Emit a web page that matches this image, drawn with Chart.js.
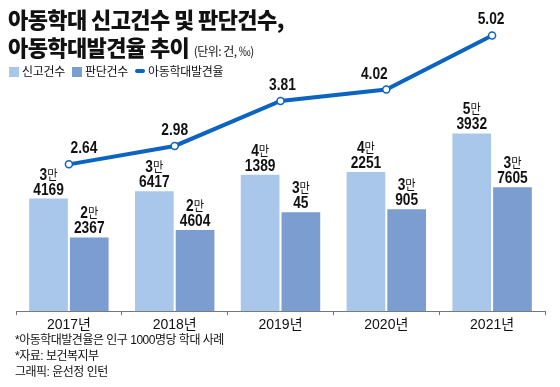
<!DOCTYPE html>
<html>
<head>
<meta charset="utf-8">
<script src="https://cdn.jsdelivr.net/npm/chart.js@4"></script>
<style>
  body { margin: 0; background: #fff; }
  #wrap { position: relative; width: 560px; height: 387px; overflow: hidden; font-family: "Liberation Sans", "Noto Sans CJK KR", sans-serif; color: #111; }
  #myChart { position: absolute; left: 0; top: 0; }
  .title { position: absolute; left: 8px; font-family: "Noto Sans CJK KR", sans-serif; font-size: 22px; font-weight: 900; letter-spacing: -0.6px; line-height: 1; white-space: nowrap; }
  .title small { font-size: 12px; font-weight: 400; letter-spacing: -0.5px; }
  .legend { position: absolute; left: 9px; top: 64px; font-size: 12px; letter-spacing: -0.3px; white-space: nowrap; line-height: 16px; }
  .legend span.sw { display: inline-block; width: 10px; height: 10px; vertical-align: -1px; margin-right: 3px; }
  .legend span.ln { display: inline-block; width: 10px; height: 4px; border-radius: 2px; vertical-align: 3px; margin-right: 3px; }
  .legend .item { margin-right: 4px; }
  .notes { position: absolute; left: 15px; top: 332px; font-size: 12px; line-height: 16px; letter-spacing: -0.5px; white-space: nowrap; }
</style>
</head>
<body>
<div id="wrap">
  <canvas id="myChart" width="560" height="387"></canvas>
  <div class="title" style="top:7px">아동학대 신고건수 및 판단건수,</div>
  <div class="title" style="top:35px">아동학대발견율 추이 <small>(단위: 건, ‰)</small></div>
  <div class="legend">
    <span class="item"><span class="sw" style="background:#a9c7ea"></span>신고건수</span>
    <span class="item"><span class="sw" style="background:#7b9dd0"></span>판단건수</span>
    <span class="item"><span class="ln" style="background:#0b63c2"></span>아동학대발견율</span>
  </div>
  <div class="notes">
    *아동학대발견율은 인구 1000명당 학대 사례<br>
    *자료: 보건복지부<br>
    그래픽: 윤선정 인턴
  </div>
</div>
<script>
// data
var years = ['2017년', '2018년', '2019년', '2020년', '2021년'];
var reports = [34169, 36417, 41389, 42251, 53932];
var judged = [22367, 24604, 30045, 30905, 37605];
var rate = [2.64, 2.98, 3.81, 4.02, 5.02];

// "3만 4169" style labels above the bars
var barLabels = {
    id: 'barLabels',
    afterDatasetsDraw: function (chart) {
        var ctx = chart.ctx;
        ctx.save();
        ctx.fillStyle = '#111';
        ctx.textBaseline = 'alphabetic';
        [0, 1].forEach(function (di) {
            var meta = chart.getDatasetMeta(di);
            var vals = chart.data.datasets[di].data;
            meta.data.forEach(function (bar, i) {
                var v = vals[i];
                var man = Math.floor(v / 10000);
                var rest = String(v % 10000);
                // number line
                ctx.save();
                ctx.translate(bar.x, bar.y - 4);
                ctx.scale(0.86, 1);
                ctx.font = 'bold 16px "Liberation Sans", Arial, sans-serif';
                ctx.textAlign = 'center';
                ctx.fillText(rest, 0, 0);
                ctx.restore();
                // "N만" line
                ctx.save();
                ctx.translate(bar.x, bar.y - 19);
                ctx.scale(0.86, 1);
                ctx.font = 'bold 16px "Liberation Sans", Arial, sans-serif';
                var w1 = ctx.measureText(String(man)).width;
                ctx.font = '13px "Noto Sans CJK KR", sans-serif';
                var w2 = ctx.measureText('만').width;
                var x0 = -(w1 + w2) / 2;
                ctx.textAlign = 'left';
                ctx.font = 'bold 16px "Liberation Sans", Arial, sans-serif';
                ctx.fillText(String(man), x0, 0);
                ctx.font = '13px "Noto Sans CJK KR", sans-serif';
                ctx.fillText('만', x0 + w1, -1);
                ctx.restore();
            });
        });
        // rate labels
        var lmeta = chart.getDatasetMeta(2);
        var shift = chart.options.plugins.barLabels.rateShift;
        lmeta.data.forEach(function (pt, i) {
            ctx.save();
            ctx.translate(pt.x + shift[i], pt.y - 11);
            ctx.scale(0.86, 1);
            ctx.font = 'bold 16px "Liberation Sans", Arial, sans-serif';
            ctx.textAlign = 'center';
            ctx.fillText(rate[i].toFixed(2), 0, 0);
            ctx.restore();
        });
        ctx.restore();
    }
};

var ctx1 = document.getElementById('myChart').getContext('2d');

var chartData = {
    type: 'bar',
    data: {
        labels: years,
        datasets: [{
            label: '신고건수',
            data: reports,
            backgroundColor: '#a9c7ea',
            yAxisID: 'y',
            order: 2
        }, {
            label: '판단건수',
            data: judged,
            backgroundColor: '#7b9dd0',
            yAxisID: 'y',
            order: 2
        }, {
            type: 'line',
            label: '아동학대발견율',
            data: rate,
            borderColor: '#0b63c2',
            borderWidth: 4,
            pointRadius: 3.5,
            pointBorderWidth: 1.5,
            pointBackgroundColor: '#fff',
            pointBorderColor: '#0b63c2',
            tension: 0,
            yAxisID: 'y1',
            order: 1
        }]
    },
    options: {
        responsive: false,
        animation: false,
        layout: { padding: { top: 30, left: 16, right: 15, bottom: 51 } },
        datasets: { bar: { categoryPercentage: 0.77, barPercentage: 0.95 } },
        plugins: {
            legend: { display: false },
            tooltip: { enabled: false },
            barLabels: { rateShift: [15, 0, 2, -12, -1] }
        },
        scales: {
            x: {
                grid: { offset: true, drawOnChartArea: false, tickLength: 4, color: '#777' },
                border: { display: true, color: '#777' },
                ticks: { color: '#111', font: { size: 14, family: '"Liberation Sans", "Noto Sans CJK KR", sans-serif' }, padding: 2 }
            },
            y: { display: false, min: 0, max: 85300 },
            y1: { display: false, min: -0.07, max: 5.12 }
        }
    },
    plugins: [barLabels]
};

var myChart = new Chart(ctx1, chartData);
</script>
</body>
</html>
